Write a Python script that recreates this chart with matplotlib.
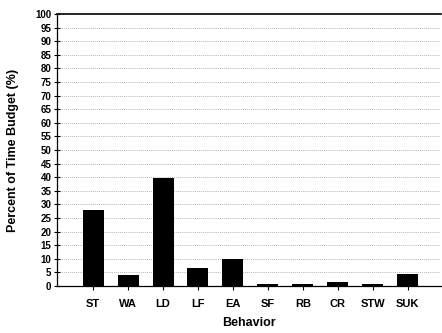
import matplotlib
matplotlib.use("Agg")
import matplotlib.pyplot as plt
import numpy as np

# time budget per behavior (%)
behaviors = ["ST", "WA", "LD", "LF", "EA", "SF", "RB", "CR", "STW", "SUK"]
percent = [28.1, 4.0, 39.8, 6.7, 9.8, 0.8, 0.7, 1.5, 0.6, 4.3]
yticks = list(range(0, 101, 5))

plt.rcParams['font.family'] = ['Liberation Sans', 'DejaVu Sans']

fig = plt.figure(figsize=(4.42, 3.33), dpi=100)
ax = fig.add_axes([0.129, 0.141, 0.869, 0.817])

x = np.arange(len(behaviors))
ax.bar(x, percent, width=0.6, color='black', zorder=3)

ax.set_xlim(-1.03, 9.95)
ax.set_ylim(0, 100)
ax.set_yticks(yticks)
ax.set_xticks(x)
ax.set_xticklabels(behaviors, fontsize=8, fontweight='bold')
ax.set_yticklabels([str(v) for v in yticks], fontsize=7, fontweight='bold')

# dotted guide lines every 5 %
for v in yticks[1:-1]:
	ax.axhline(v, color='#999999', linestyle=(0, (1, 1.5)), linewidth=0.6, zorder=1)

ax.spines['right'].set_visible(False)
ax.spines['top'].set_linewidth(1.2)
ax.spines['left'].set_linewidth(0.9)
ax.spines['bottom'].set_linewidth(0.9)
ax.tick_params(axis='y', direction='inout', length=4, width=0.8, pad=2)
ax.tick_params(axis='x', direction='out', length=3, width=0.8, pad=6)

ax.set_xlabel("Behavior", fontsize=9, fontweight='bold', labelpad=6)
ax.set_ylabel("Percent of Time Budget (%)", fontsize=9, fontweight='bold', labelpad=12)

fig.savefig("out.png", dpi=100)
